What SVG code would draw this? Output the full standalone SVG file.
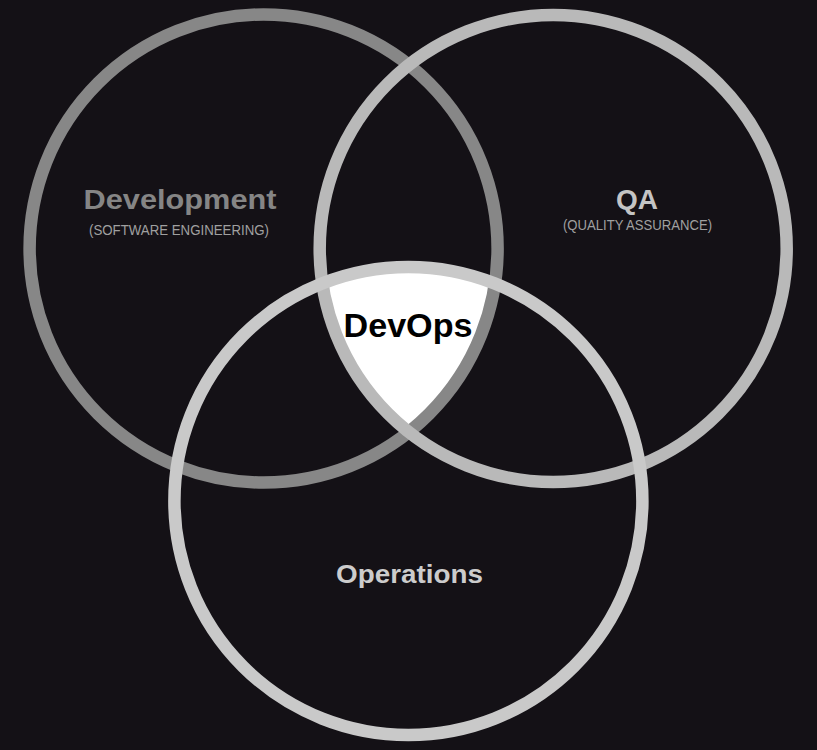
<svg xmlns="http://www.w3.org/2000/svg" width="817" height="750" viewBox="0 0 817 750">
<style>
.ring{fill:none;stroke-width:12.5}
.title{font-family:"Liberation Sans",Arial,sans-serif;font-weight:bold;text-anchor:middle}
.sub{font-family:"Liberation Sans",Arial,sans-serif;font-weight:normal;text-anchor:middle;fill:#a0a0a0;font-size:14px}
</style>
<defs>
<clipPath id="cDev"><circle cx="263.6" cy="248.5" r="234"/></clipPath>
<clipPath id="cQA"><circle cx="553.2" cy="248.5" r="233.5"/></clipPath>
</defs>
<rect width="817" height="750" fill="#141116"/>
<g id="devops-fill" clip-path="url(#cDev)"><g clip-path="url(#cQA)"><circle cx="408.4" cy="501" r="234" fill="#ffffff"/></g></g>
<g id="development">
<circle class="ring" cx="263.6" cy="248.5" r="234" stroke="#878787"/>
<text class="title" x="180" y="209" font-size="28" fill="#858585" textLength="193" lengthAdjust="spacingAndGlyphs">Development</text>
<text class="sub" x="179" y="235" textLength="180" lengthAdjust="spacingAndGlyphs">(SOFTWARE ENGINEERING)</text>
</g>
<g id="qa">
<circle class="ring" cx="553.2" cy="248.5" r="233.5" stroke="#b9b9b9"/>
<text class="title" x="637" y="209" font-size="28" fill="#c4c4c4">QA</text>
<text class="sub" x="637.5" y="230" textLength="149" lengthAdjust="spacingAndGlyphs" fill="#b0b0b0">(QUALITY ASSURANCE)</text>
</g>
<g id="operations">
<circle class="ring" cx="408.4" cy="501" r="234" stroke="#c9c9c9"/>
<text class="title" x="409.5" y="583" font-size="25" fill="#cccccc" textLength="147" lengthAdjust="spacingAndGlyphs">Operations</text>
</g>
<g id="devops">
<text class="title" x="408" y="337" font-size="33" fill="#000000" textLength="129" lengthAdjust="spacingAndGlyphs">DevOps</text>
</g>
<g id="connectors"></g>
</svg>
